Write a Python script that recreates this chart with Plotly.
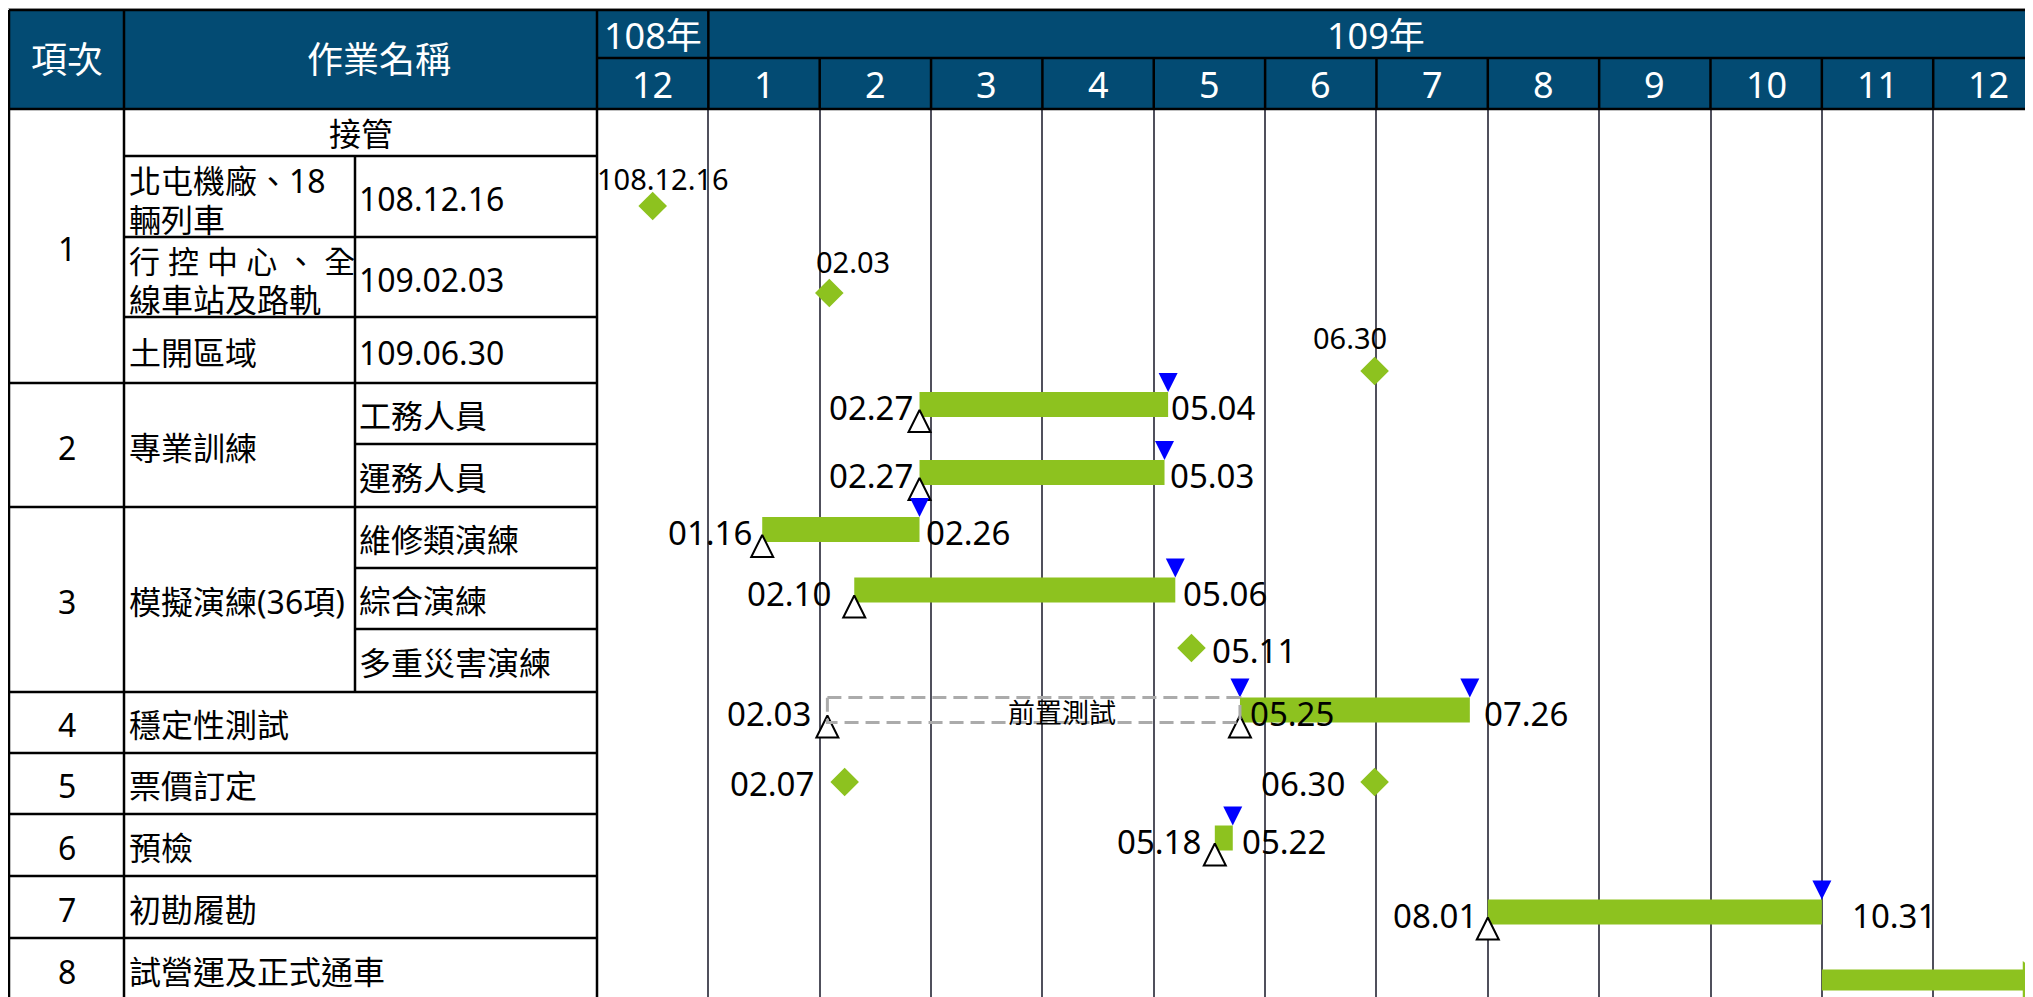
import calendar
import plotly.graph_objects as go

# ===================== data =====================
YEAR_LABELS = ["108年", "109年"]
MONTH_LABELS = ["12", "1", "2", "3", "4", "5", "6", "7", "8", "9", "10", "11", "12"]
HEADER_LABELS = ["項次", "作業名稱"]

ITEM_NUMBERS = ["1", "2", "3", "4", "5", "6", "7", "8"]
ITEM_NAMES = ["接管", "專業訓練", "模擬演練(36項)", "穩定性測試", "票價訂定", "預檢", "初勘履勘", "試營運及正式通車"]
TAKEOVER_SITES = ["北屯機廠、18<br>輛列車", "行 控 中 心 、 全<br>線車站及路軌", "土開區域"]
TAKEOVER_DATES = ["108.12.16", "109.02.03", "109.06.30"]
TRAINING_SUBITEMS = ["工務人員", "運務人員"]
DRILL_SUBITEMS = ["維修類演練", "綜合演練", "多重災害演練"]

BAR_TASKS = ["工務人員", "運務人員", "維修類演練", "綜合演練", "穩定性測試", "預檢", "初勘履勘"]
BAR_STARTS = ["109.02.27", "109.02.27", "109.01.16", "109.02.10", "109.05.25", "109.05.18", "109.08.01"]
BAR_ENDS = ["109.05.04", "109.05.03", "109.02.26", "109.05.06", "109.07.26", "109.05.22", "109.10.31"]

PRETEST_TASK = "穩定性測試"
PRETEST_LABEL = "前置測試"
PRETEST_START = "109.02.03"
PRETEST_END = "109.05.25"

MILESTONE_TASKS = ["北屯機廠", "行控中心", "土開區域", "多重災害演練", "票價訂定", "票價訂定"]
MILESTONE_DATES = ["108.12.16", "109.02.03", "109.06.30", "109.05.11", "109.02.07", "109.06.30"]
MILESTONE_TEXTS = ["108.12.16", "02.03", "06.30", "05.11", "02.07", "06.30"]

ONGOING_TASK = "試營運及正式通車"
ONGOING_START = "109.11.01"

# ===================== layout / style =====================
FONT = "Noto Sans, Noto Sans CJK TC"
HEADER_BG = "#034B73"
GREEN = "#8DC21F"
BLUE = "#0000FF"
GRID = "#50505C"

OFF = 8                     # page body margin
W, H = 2025, 989            # figure size
X_LEFT, X_C1, X_C2, X_CH = 9, 124, 355, 597
HEAD_TOP, YEAR_BOT, HEAD_BOT = 10, 58, 109
MONTH_PX = 111.35
ROW_KEYS = ["接管", "北屯機廠", "行控中心", "土開區域", "工務人員", "運務人員", "維修類演練",
            "綜合演練", "多重災害演練", "穩定性測試", "票價訂定", "預檢", "初勘履勘", "試營運及正式通車"]
ROW_H = [47, 81, 80, 66, 61, 63, 61, 61, 63, 61, 61, 62, 62, 62]
# vertical nudge of the chart marks relative to row centre (px)
MARK_NUDGE = [0, 9.5, 16, 21, -9, -3, -8, -8.5, -12.5, -12.5, -1.5, -7, 5, 11]
BAR_W = 25

HEAD_FS, BODY_FS, LABEL_FS, SMALL_FS = 36, 32, 33, 29

# row geometry (page px)
row_top = {}
acc = HEAD_BOT
for k, h in zip(ROW_KEYS, ROW_H):
    row_top[k] = acc
    acc += h
row_bot = {k: row_top[k] + h for k, h in zip(ROW_KEYS, ROW_H)}
row_mid = {k: (row_top[k] + row_bot[k]) / 2 for k in ROW_KEYS}
mark_y = {k: row_mid[k] - HEAD_BOT + n for k, n in zip(ROW_KEYS, MARK_NUDGE)}  # y-axis units


def P(x):
    return (x - OFF) / W


def Q(y):
    return 1 - (y - OFF) / H


def parse(d):
    y, m, day = map(int, d.split("."))
    return y, m, day


def month_index(d):
    y, m, _ = parse(d)
    return (y - 108) * 12 + m - 12


def dim(d):
    y, m, _ = parse(d)
    return calendar.monthrange(y + 1911, m)[1]


def x_start(d):
    return month_index(d) + (parse(d)[2] - 1) / dim(d)


def x_end(d):
    return month_index(d) + parse(d)[2] / dim(d)


def x_mid(d):
    return month_index(d) + (parse(d)[2] - 0.5) / dim(d)


XR = (OFF + W - X_CH) / MONTH_PX
Y_RANGE = OFF + H - HEAD_BOT

fig = go.Figure()
shapes = []
ann = []


def hline(y, x0, x1, color="black", w=2.5):
    shapes.append(dict(type="line", xref="paper", yref="paper", x0=P(x0), x1=P(x1), y0=Q(y), y1=Q(y),
                       line=dict(color=color, width=w)))


def vline(x, y0, y1, color="black", w=2.5):
    shapes.append(dict(type="line", xref="paper", yref="paper", x0=P(x), x1=P(x), y0=Q(y0), y1=Q(y1),
                       line=dict(color=color, width=w)))


def ptext(text, x, y, size=BODY_FS, color="black", xanchor="center", align="center", family=FONT):
    ann.append(dict(text=text, xref="paper", yref="paper", x=P(x), y=Q(y), showarrow=False,
                    xanchor=xanchor, yanchor="middle", align=align,
                    font=dict(family=family, size=size, color=color)))


RIGHT = OFF + W
BOTTOM = OFF + H + 10

# ---------- header ----------
shapes.append(dict(type="line", xref="paper", yref="paper", x0=0, x1=1, y0=Q(OFF + 0.5), y1=Q(OFF + 0.5),
                   line=dict(color="#BDBDBD", width=2)))
shapes.append(dict(type="rect", xref="paper", yref="paper", x0=P(X_LEFT), x1=P(RIGHT), y0=Q(HEAD_TOP),
                   y1=Q(HEAD_BOT), fillcolor=HEADER_BG, line=dict(width=0), layer="below"))
hline(HEAD_TOP, X_LEFT, RIGHT)
hline(YEAR_BOT, X_CH, RIGHT)
hline(HEAD_BOT, X_LEFT, RIGHT)
for x in (X_LEFT, X_C1, X_CH, X_CH + MONTH_PX):
    vline(x, HEAD_TOP, HEAD_BOT)
for k in range(2, len(MONTH_LABELS)):
    vline(X_CH + k * MONTH_PX, YEAR_BOT, HEAD_BOT)

ptext(HEADER_LABELS[0], (X_LEFT + X_C1) / 2, (HEAD_TOP + HEAD_BOT) / 2, HEAD_FS, "white")
ptext(HEADER_LABELS[1], 379, (HEAD_TOP + HEAD_BOT) / 2, HEAD_FS, "white")

for i, m in enumerate(MONTH_LABELS):
    ann.append(dict(text=m, xref="x", yref="paper", x=i + 0.5, y=Q((YEAR_BOT + HEAD_BOT) / 2 + 1),
                    showarrow=False, xanchor="center", yanchor="middle",
                    font=dict(family=FONT, size=HEAD_FS, color="white")))
ann.append(dict(text=YEAR_LABELS[0], xref="x", yref="paper", x=0.5, y=Q((HEAD_TOP + YEAR_BOT) / 2 + 1),
                showarrow=False, xanchor="center", yanchor="middle",
                font=dict(family=FONT, size=HEAD_FS, color="white")))
ann.append(dict(text=YEAR_LABELS[1], xref="x", yref="paper", x=1 + (len(MONTH_LABELS) - 1) / 2,
                y=Q((HEAD_TOP + YEAR_BOT) / 2 + 1), showarrow=False, xanchor="center", yanchor="middle",
                font=dict(family=FONT, size=HEAD_FS, color="white")))

# ---------- table body ----------
for x in (X_LEFT, X_C1, X_CH):
    vline(x, HEAD_BOT, BOTTOM)
vline(X_C2, row_top["北屯機廠"], row_bot["多重災害演練"])

hline(row_bot["接管"], X_C1, X_CH)
hline(row_bot["北屯機廠"], X_C1, X_CH)
hline(row_bot["行控中心"], X_C1, X_CH)
hline(row_bot["工務人員"], X_C2, X_CH)
hline(row_bot["維修類演練"], X_C2, X_CH)
hline(row_bot["綜合演練"], X_C2, X_CH)
for k in ("土開區域", "運務人員", "多重災害演練", "穩定性測試", "票價訂定", "預檢", "初勘履勘"):
    hline(row_bot[k], X_LEFT, X_CH)

NUM_X = (X_LEFT + X_C1) / 2
TXT_X1 = X_C1 + 3
TXT_X2 = X_C2 + 2
LINE_GAP = 39
# group 1
ptext(ITEM_NUMBERS[0], NUM_X, (row_top["接管"] + row_bot["土開區域"]) / 2 + 2)
ptext(ITEM_NAMES[0], (X_C1 + X_CH) / 2, row_mid["接管"] + 1)
for key, site, date in zip(["北屯機廠", "行控中心", "土開區域"], TAKEOVER_SITES, TAKEOVER_DATES):
    lines = site.split("<br>")
    y0 = row_mid[key] + 3 - LINE_GAP * (len(lines) - 1) / 2
    for j, ln in enumerate(lines):
        ptext(ln, TXT_X1, y0 + j * LINE_GAP, size=BODY_FS - 1 if " " in ln else BODY_FS,
              xanchor="left", align="left")
    ptext(date, TXT_X2, row_mid[key] + 2, xanchor="left", align="left")
# group 2
ptext(ITEM_NUMBERS[1], NUM_X, (row_top["工務人員"] + row_bot["運務人員"]) / 2 + 2)
ptext(ITEM_NAMES[1], TXT_X1, (row_top["工務人員"] + row_bot["運務人員"]) / 2 + 2, xanchor="left")
for key in TRAINING_SUBITEMS:
    ptext(key, TXT_X2, row_mid[key] + 2, xanchor="left")
# group 3
ptext(ITEM_NUMBERS[2], NUM_X, (row_top["維修類演練"] + row_bot["多重災害演練"]) / 2 + 2)
ptext(ITEM_NAMES[2], TXT_X1, (row_top["維修類演練"] + row_bot["多重災害演練"]) / 2 + 2, xanchor="left")
for key in DRILL_SUBITEMS:
    ptext(key, TXT_X2, row_mid[key] + 2, xanchor="left")
# groups 4..8
for num, name in zip(ITEM_NUMBERS[3:], ITEM_NAMES[3:]):
    ptext(num, NUM_X, row_mid[name] + 2)
    ptext(name, TXT_X1, row_mid[name] + 2, xanchor="left")

# ---------- gantt marks ----------
bx0 = [x_start(d) for d in BAR_STARTS]
bx1 = [x_end(d) for d in BAR_ENDS]
by = [mark_y[t] for t in BAR_TASKS]

# pre-test dashed box
py = mark_y[PRETEST_TASK]
shapes.append(dict(type="rect", xref="x", yref="y", x0=x_start(PRETEST_START), x1=x_start(PRETEST_END),
                   y0=py - BAR_W / 2, y1=py + BAR_W / 2, line=dict(color="#ABABAB", width=3, dash="14px,7px"),
                   fillcolor="rgba(0,0,0,0)"))
ann.append(dict(text=PRETEST_LABEL, xref="x", yref="y",
                x=(x_start(PRETEST_START) + x_start(PRETEST_END)) / 2 + 0.25, y=py + 2, showarrow=False,
                xanchor="center", yanchor="middle", font=dict(family=FONT, size=27, color="black")))

fig.add_trace(go.Bar(orientation="h", base=bx0, x=[b - a for a, b in zip(bx0, bx1)], y=by, width=BAR_W,
                     marker=dict(color=GREEN, line=dict(width=0)), hoverinfo="skip"))

# ongoing arrow (row 8)
oy = mark_y[ONGOING_TASK]
arrow_base = XR - 10 / MONTH_PX
fig.add_trace(go.Bar(orientation="h", base=[x_start(ONGOING_START)], x=[arrow_base - x_start(ONGOING_START)],
                     y=[oy], width=21, marker=dict(color=GREEN, line=dict(width=0)), hoverinfo="skip"))
fig.add_trace(go.Scatter(x=[XR - 2 / MONTH_PX], y=[oy], mode="markers", cliponaxis=False,
                         marker=dict(symbol="triangle-right", size=33, color=GREEN, line=dict(width=0)),
                         hoverinfo="skip"))

# start / end triangles
sx = bx0 + [x_start(PRETEST_START)]
sy = [y + BAR_W / 2 - 7 for y in by] + [py + BAR_W / 2 - 7]
ex = bx1 + [x_start(PRETEST_END)]
ey = [y - BAR_W / 2 for y in by] + [py - BAR_W / 2]
fig.add_trace(go.Scatter(x=sx, y=sy, mode="markers", cliponaxis=False,
                         marker=dict(symbol="arrow-up", size=22, color="white", line=dict(color="black", width=2)),
                         hoverinfo="skip"))
fig.add_trace(go.Scatter(x=ex, y=ey, mode="markers", cliponaxis=False,
                         marker=dict(symbol="arrow-down", size=19, color=BLUE, line=dict(width=0)),
                         hoverinfo="skip"))

# milestones
mx = [x_mid(d) for d in MILESTONE_DATES]
my = [mark_y[t] for t in MILESTONE_TASKS]
fig.add_trace(go.Scatter(x=mx, y=my, mode="markers", cliponaxis=False,
                         marker=dict(symbol="diamond", size=22, color=GREEN, line=dict(width=0)),
                         hoverinfo="skip"))

# labels for bars
START_ANCHOR = ["right", "right", "right", "right", "left", "right", "right"]
START_DX = [-5, -5, -8, -21, 8, -12, -9]
END_DX = [1, 3, 4, 6, 12, 7, 28]
for i in range(len(BAR_TASKS)):
    ann.append(dict(text=BAR_STARTS[i][4:], xref="x", yref="y", x=bx0[i], y=by[i] + 3, showarrow=False,
                    xanchor=START_ANCHOR[i], yanchor="middle", xshift=START_DX[i],
                    font=dict(family=FONT, size=LABEL_FS, color="black")))
    ann.append(dict(text=BAR_ENDS[i][4:], xref="x", yref="y", x=bx1[i], y=by[i] + 3, showarrow=False,
                    xanchor="left", yanchor="middle", xshift=END_DX[i],
                    font=dict(family=FONT, size=LABEL_FS, color="black")))
ann.append(dict(text=PRETEST_START[4:], xref="x", yref="y", x=x_start(PRETEST_START), y=py + 3,
                showarrow=False, xanchor="right", yanchor="middle", xshift=-14,
                font=dict(family=FONT, size=LABEL_FS, color="black")))

# labels for milestones
M_ANCHOR = ["center", "center", "center", "left", "right", "right"]
M_DX = [10, 24, -25, 19, -29, -28]
M_DY = [28, 32, 34, -2, -1, -1]
M_FS = [SMALL_FS, SMALL_FS, SMALL_FS, LABEL_FS, LABEL_FS, LABEL_FS]
for i in range(len(MILESTONE_TEXTS)):
    ann.append(dict(text=MILESTONE_TEXTS[i], xref="x", yref="y", x=mx[i], y=my[i], showarrow=False,
                    xanchor=M_ANCHOR[i], yanchor="middle", xshift=M_DX[i], yshift=M_DY[i],
                    font=dict(family=FONT, size=M_FS[i], color="black")))

fig.update_layout(
    width=W, height=H, margin=dict(l=0, r=0, t=0, b=0, pad=0),
    paper_bgcolor="white", plot_bgcolor="white", showlegend=False, barmode="overlay",
    font=dict(family=FONT, color="black"),
    xaxis=dict(domain=[P(X_CH), 1], range=[0, XR], tickvals=list(range(1, len(MONTH_LABELS))),
               showgrid=True, gridcolor=GRID, gridwidth=2, showticklabels=False, ticks="",
               zeroline=False, showline=False, fixedrange=True),
    yaxis=dict(domain=[0, Q(HEAD_BOT)], range=[Y_RANGE, 0], visible=False, showgrid=False,
               zeroline=False, fixedrange=True),
    shapes=shapes, annotations=ann,
)

fig.write_html("out.html")
